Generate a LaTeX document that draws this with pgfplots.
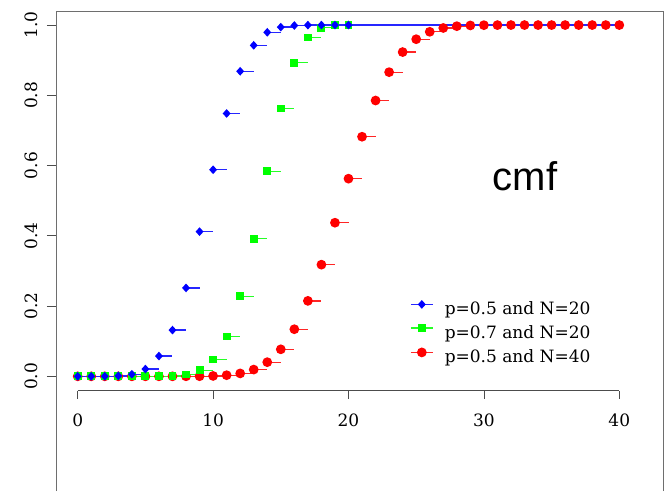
\documentclass[border=0pt]{standalone}
\usepackage{pgfplots}
\pgfplotsset{compat=1.18}
\usepackage{fontspec}
\setmainfont{DejaVu Serif}
\newfontfamily\sansf{Liberation Sans}
\definecolor{rblue}{RGB}{0,0,255}
\definecolor{rgreen}{RGB}{0,255,0}
\definecolor{rred}{RGB}{255,0,0}
\definecolor{framegray}{RGB}{110,110,110}

\begin{document}
\begin{tikzpicture}
\begin{axis}[
    at={(0,0)}, anchor=north west,
    scale only axis, width=607.3pt, height=480pt,
    xmin=-1.603, xmax=43.25, ymin=-0.3265, ymax=1.04,
    axis x line*=top, axis y line*=box,
    xtick=\empty,
    ytick={0,0.2,0.4,0.6,0.8,1},
    ytick pos=left,
    tick align=outside,
    major tick length=9pt,
    axis line style={draw=framegray, line width=0.9pt},
    tick style={draw=black!70, line width=0.8pt},
    clip=false,
    /pgf/number format/assume math mode=true,
    tick label style={font=\fontsize{17}{20}\selectfont},
    yticklabel style={
        /pgf/number format/.cd,
            fixed, fixed zerofill, precision=1,
        /tikz/.cd,
        rotate=90, anchor=south, inner sep=0pt
    },
    yticklabel shift=9.4pt,
    legend style={draw=none, fill=none, inner sep=0pt,
        at={(axis cs:24.54,0.215)}, anchor=north west,
        font=\fontsize{17}{20}\selectfont,
        row sep=6pt,
        nodes={inner sep=0pt, text height=12.5pt, text depth=4pt},
        /tikz/every odd column/.style={column sep=11.3pt}},
    legend cell align=left,
    legend image code/.code={
        \draw[mark repeat=2, mark phase=2, #1]
        plot coordinates {(0pt,6pt) (11pt,6pt) (22pt,6pt)};},
]
% legend images (plots themselves are drawn red, green, blue)
\addlegendimage{rblue!85!white, line width=1.3pt, mark=diamond*, mark size=3.4pt,
    mark options={rblue, xscale=1.2}}
\addlegendimage{rgreen!85!white, line width=1.3pt, mark=square*, mark size=3.3pt,
    mark options={rgreen}}
\addlegendimage{rred!85!white, line width=1.3pt, mark=*, mark size=4.2pt,
    mark options={rred}}
\legend{p=0.5 and N=20, p=0.7 and N=20, p=0.5 and N=40}

% p=0.5, N=40
\addplot[rred!85!white, line width=1.3pt, jump mark left, mark=*, mark size=4.2pt,
    mark options={rred}, forget plot]
table {
0 0
1 0
2 0
3 0
4 0
5 0
6 0
7 0.00002
8 0.0001
9 0.0003
10 0.0011
11 0.0032
12 0.0083
13 0.0192
14 0.0403
15 0.0769
16 0.1341
17 0.2148
18 0.3179
19 0.4373
20 0.5627
21 0.6821
22 0.7852
23 0.8659
24 0.9231
25 0.9597
26 0.9808
27 0.9917
28 0.9968
29 0.9989
30 0.9997
31 0.9999
32 1
33 1
34 1
35 1
36 1
37 1
38 1
39 1
40 1
};
% p=0.7, N=20
\addplot[rgreen!85!white, line width=1.3pt, jump mark left, mark=square*, mark size=3.3pt,
    mark options={rgreen}, forget plot]
table {
0 0
1 0
2 0
3 0
4 0
5 0.00002
6 0.0003
7 0.0013
8 0.0051
9 0.0171
10 0.0480
11 0.1133
12 0.2277
13 0.3920
14 0.5836
15 0.7625
16 0.8929
17 0.9645
18 0.9924
19 0.9992
20 1
};
% p=0.5, N=20 (last row only carries the line on to 40)
\addplot[rblue!85!white, line width=1.3pt, jump mark left, mark=diamond*, mark size=3.4pt,
    mark options={rblue, xscale=1.2}, mark indices={1,...,21}, forget plot]
table {
0 0.000001
1 0.00002
2 0.0002
3 0.0013
4 0.0059
5 0.0207
6 0.0577
7 0.1316
8 0.2517
9 0.4119
10 0.5881
11 0.7483
12 0.8684
13 0.9423
14 0.9793
15 0.9941
16 0.9987
17 0.9998
18 1
19 1
20 1
40 1
};

\node[anchor=base, font=\sansf\fontsize{40}{44}\selectfont] at (axis cs:33.04,0.530) {cmf};
\end{axis}

% x axis, R style: only from 0 to 40
\begin{axis}[
    at={(21.7pt,0)}, anchor=north west,
    scale only axis, width=541.6pt, height=379.7pt,
    xmin=0, xmax=40, ymin=0, ymax=1,
    axis x line*=bottom, axis y line=none,
    xtick={0,10,20,30,40},
    tick align=outside,
    major tick length=8pt,
    axis line style={draw=black!70, line width=0.8pt},
    tick style={draw=black!70, line width=0.8pt},
    /pgf/number format/assume math mode=true,
    xticklabel style={font=\fontsize{17}{20}\selectfont, anchor=north, inner sep=0pt},
    xticklabel shift=15.3pt,
]
\end{axis}

\pgfresetboundingbox
\path[use as bounding box] (-56pt,11pt) rectangle (610pt,-480pt);
\end{tikzpicture}
\end{document}
